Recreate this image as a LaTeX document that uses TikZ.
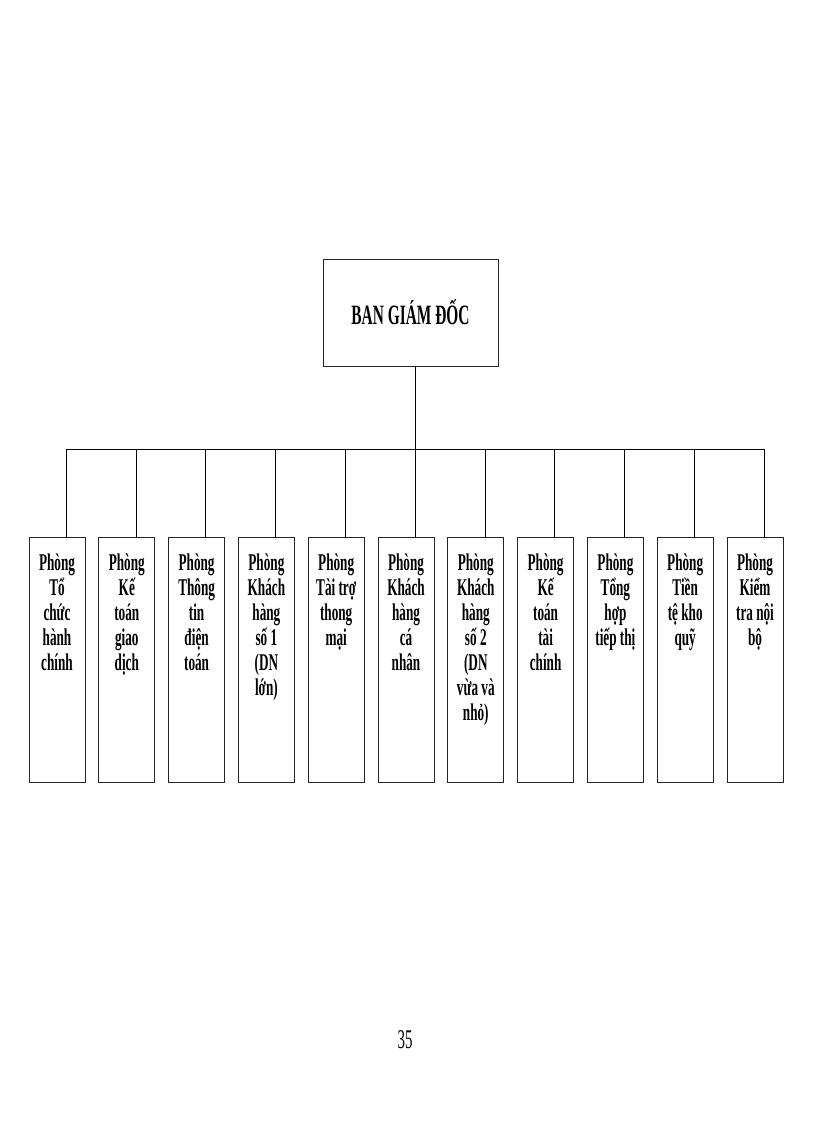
\documentclass[tikz,border=0pt]{standalone}
\usepackage{fontspec}
\setmainfont{Liberation Serif}[FakeStretch=0.55]
\newcommand{\deptbox}[1]{\parbox[t][213pt][t]{54pt}{\centering #1}}
\tikzset{
	dept/.style={draw=black!85,line width=0.9pt,anchor=north,inner xsep=1pt,inner ysep=16pt,
		minimum width=56pt,minimum height=245pt,font=\fontsize{24}{25}\selectfont\bfseries},
	boss/.style={draw=black!85,line width=0.9pt,minimum width=175pt,minimum height=107pt,
		font=\fontsize{28}{30}\selectfont\bfseries},
}
\begin{document}
\begin{tikzpicture}[x=1pt,y=-1pt]
	\useasboundingbox (0,0) rectangle (816,1123);
	\node[boss] (bgd) at (410.5,312.5) {BAN GIÁM ĐỐC};
	\coordinate (bus) at (415,449);
	\foreach \t [count=\i] in {{Phòng\\Tổ\\chức\\hành\\chính},{Phòng\\Kế\\toán\\giao\\dịch},
		{Phòng\\Thông\\tin\\điện\\toán},{Phòng\\Khách\\hàng\\số 1\\(DN\\lớn)},
		{Phòng\\Tài trợ\\thong\\mại},{Phòng\\Khách\\hàng\\cá\\nhân},
		{Phòng\\Khách\\hàng\\số 2\\(DN\\vừa và\\nhỏ)},{Phòng\\Kế\\toán\\tài\\chính},
		{Phòng\\Tổng\\hợp\\tiếp thị},{Phòng\\Tiền\\tệ kho\\quỹ},{Phòng\\Kiểm\\tra nội\\bộ}}
	{
		\node[dept] (b\i) at ({57+69.8*(\i-1)},537) {\deptbox{\t}};
		\coordinate (d\i) at ([xshift=9pt]b\i.north |- bus);
		\draw (d\i) -- ([xshift=9pt]b\i.north);
	}
	\draw (d1) -- (d11);
	\draw ([xshift=4.5pt]bgd.south) -- (bus);
	\node[font=\fontsize{27}{30}\selectfont] (page) at (405,1040) {35};
\end{tikzpicture}
\end{document}
